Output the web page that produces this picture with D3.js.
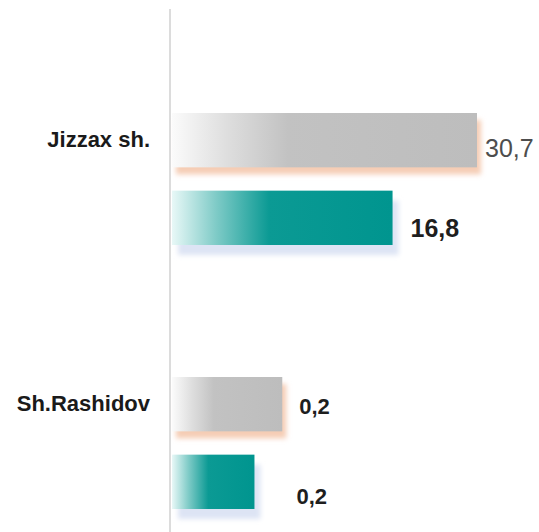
<!DOCTYPE html>
<html>
<head>
<meta charset="utf-8">
<script src="https://cdn.jsdelivr.net/npm/d3@7"></script>
<style>
	html, body { margin: 0; padding: 0; background: #fff; }
	#app { width: 539px; height: 532px; overflow: hidden; }
	text { font-family: 'Liberation Sans', Arial, sans-serif; }
</style>
</head>
<body>
<div id="app"></div>
<script>

// categories and two series (grey bar on top, teal bar below)
var categories = ['Jizzax sh.', 'Sh.Rashidov']
var series = ['grey', 'teal']

// bar lengths as drawn in the source picture (the printed numbers are not
// proportional to the bars there, so both are kept)
var greyValues = [30.7, 11.1]
var tealValues = [22.2, 8.3]

// printed value labels
var greyLabels = ['30,7', '0,2']
var tealLabels = ['16,8', '0,2']

var width = 539
var height = 532

var svg = d3.select('#app')
	.append('svg')
	  .attr('width', width)
	  .attr('height', height)

var defs = svg.append('defs')

function gradient(id, stops) {
	var g = defs.append('linearGradient')
		.attr('id', id)
		.attr('x1', '0%').attr('x2', '100%')
		.attr('y1', '0%').attr('y2', '0%')
	stops.forEach(function(s) {
		g.append('stop').attr('offset', s[0]).attr('stop-color', s[1])
	})
}

gradient('grad-grey', [['0%', '#fbfbfb'], ['18%', '#dedede'], ['38%', '#c2c2c2'], ['100%', '#bdbdbd']])
gradient('grad-teal', [['0%', '#e8f8f7'], ['20%', '#7fcbc7'], ['44%', '#0b9a94'], ['100%', '#00958f']])

defs.append('filter')
	.attr('id', 'blur')
	.attr('x', '-20%').attr('y', '-50%')
	.attr('width', '140%').attr('height', '200%')
  .append('feGaussianBlur')
	.attr('stdDeviation', 2.5)

var y = d3.scaleBand()
	.domain(categories)
	.range([47, 575])
	.paddingInner(0.5)
	.paddingOuter(0.25)

var ySub = d3.scaleBand()
	.domain(series)
	.range([0, y.bandwidth()])
	.paddingInner(0.3)

var x = d3.scaleLinear()
	.domain([0, d3.max(greyValues)])
	.range([172, 477])

// vertical axis line
svg.append('line')
	.attr('x1', 170).attr('x2', 170)
	.attr('y1', 9).attr('y2', height)
	.attr('stroke', '#dcdcdc')
	.attr('stroke-width', 2)

var rows = []
categories.forEach(function(c, i) {
	rows.push({ cat: c, s: 'grey', v: greyValues[i], label: greyLabels[i], i: i })
	rows.push({ cat: c, s: 'teal', v: tealValues[i], label: tealLabels[i], i: i })
})

function barY(d) { return y(d.cat) + ySub(d.s) }

// soft shadows
svg.append('g').selectAll('.shadow')
	.data(rows)
  .enter()
	.append('rect')
	.attr('class', 'shadow')
	.attr('x', function(d) { return x(0) + (d.s === 'grey' ? 4 : 6) })
	.attr('y', function(d) { return barY(d) + (d.s === 'grey' ? 7 : 10) })
	.attr('width', function(d) { return x(d.v) - x(0) })
	.attr('height', ySub.bandwidth())
	.attr('fill', function(d) { return d.s === 'grey' ? '#f5cdb5' : '#dde4f4' })
	.attr('filter', 'url(#blur)')

svg.append('g').selectAll('.bar')
	.data(rows)
  .enter()
	.append('rect')
	.attr('class', 'bar')
	.attr('x', x(0))
	.attr('y', barY)
	.attr('width', function(d) { return x(d.v) - x(0) })
	.attr('height', ySub.bandwidth())
	.attr('fill', function(d) { return 'url(#grad-' + d.s + ')' })

// label look per bar, as in the source (hand placed there)
var labelStyle = [
	{ dx: 8, dy: 10, size: 25, weight: 'normal', fill: '#4d4d4d' },
	{ dx: 18, dy: 13, size: 25, weight: 'bold', fill: '#1e1e1e' },
	{ dx: 17, dy: 4, size: 22, weight: 'bold', fill: '#1e1e1e' },
	{ dx: 42, dy: 16, size: 22, weight: 'bold', fill: '#1e1e1e' }
]

svg.append('g').selectAll('.value')
	.data(rows)
  .enter()
	.append('text')
	.attr('class', 'value')
	.text(function(d) { return d.label })
	.attr('x', function(d, i) { return x(d.v) + labelStyle[i].dx })
	.attr('y', function(d, i) { return barY(d) + ySub.bandwidth() / 2 + labelStyle[i].dy })
	.attr('dominant-baseline', 'middle')
	.style('font-size', function(d, i) { return labelStyle[i].size + 'px' })
	.style('font-weight', function(d, i) { return labelStyle[i].weight })
	.attr('fill', function(d, i) { return labelStyle[i].fill })

// category labels, level with the grey bar
svg.append('g').selectAll('.cat')
	.data(categories)
  .enter()
	.append('text')
	.attr('class', 'cat')
	.text(function(d) { return d })
	.attr('x', 150)
	.attr('y', function(d) { return y(d) + ySub('grey') + ySub.bandwidth() / 2 + 1 })
	.attr('text-anchor', 'end')
	.attr('dominant-baseline', 'middle')
	.style('font-size', '22px')
	.style('font-weight', 'bold')
	.attr('fill', '#1a1a1a')

</script>
</body>
</html>
